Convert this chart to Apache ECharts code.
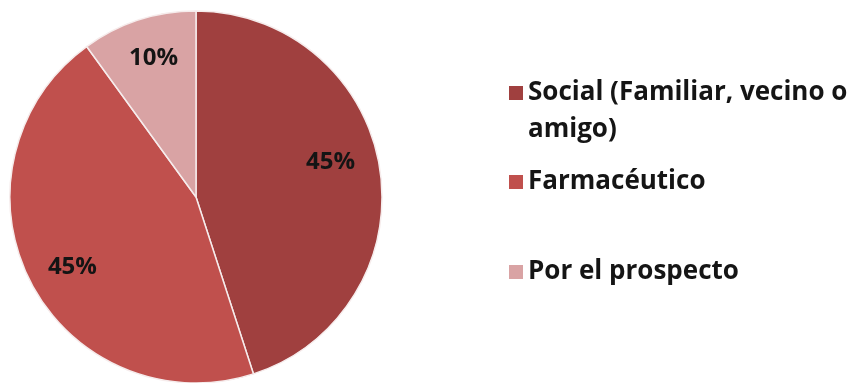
<!DOCTYPE html>
<html><head><meta charset="utf-8">
<script src="https://cdn.jsdelivr.net/npm/echarts@6/dist/echarts.min.js"></script>
<style>html,body{margin:0;padding:0;background:#fff}#c{width:854px;height:383px}</style>
</head><body><div id="c"></div>
<script>
const categories = ['Social (Familiar, vecino o amigo)', 'Farmacéutico', 'Por el prospecto'];
const legendLines = [['Social (Familiar, vecino o', 'amigo)'], ['Farmacéutico'], ['Por el prospecto']];
const values = [45, 45, 10];
const labels = ['45%', '45%', '10%'];
const colors = ['#A0403F', '#C0504D', '#D9A3A4'];

const CX = 196, CY = 197, R = 186;
const labelR = [139, 142, 145];          // label distance from centre (px)
const labelTurn = [-5.5, -2.5, 1];        // label angle tweak (degrees, clockwise)
const LH = 37;

const chart = echarts.init(document.getElementById('c'), null, {renderer: 'canvas'});
const legendText = {fontFamily: 'Open Sans', fontWeight: 'bold', fontSize: 26, color: '#151515', lineHeight: LH};
function mkLegend(i, centerY) {
  const lines = legendLines[i];
  const text = lines.length > 1 ? '\n' + lines.join('\n') : lines[0];
  const nLines = lines.length > 1 ? lines.length + 1 : 1;
  return {
    data: [categories[i]], left: 509, top: centerY - nLines * LH / 2, orient: 'vertical',
    itemWidth: 14, itemHeight: 14, itemGap: 0, icon: 'rect', selectedMode: false,
    itemStyle: {borderWidth: 0},
    formatter: () => text,
    textStyle: legendText, padding: 0
  };
}
chart.setOption({
  animation: false,
  color: colors,
  legend: [mkLegend(0, 93), mkLegend(1, 182), mkLegend(2, 272)],
  series: [{
    type: 'pie',
    center: [CX, CY],
    radius: [0, R],
    startAngle: 90,
    clockwise: true,
    data: categories.map((c, i) => ({name: c, value: values[i]})),
    itemStyle: {borderColor: '#f6ecec', borderWidth: 1.5},
    label: {
      show: true, position: 'inside',
      formatter: p => labels[p.dataIndex],
      fontFamily: 'Open Sans', fontWeight: 'bold', fontSize: 24, color: '#141414'
    },
    labelLayout: function (p) {
      const r = p.labelRect;
      const lx = r.x + r.width / 2 - CX, ly = r.y + r.height / 2 - CY;
      const a = Math.atan2(ly, lx) + labelTurn[p.dataIndex] * Math.PI / 180;
      const d = labelR[p.dataIndex];
      return {x: CX + d * Math.cos(a), y: CY + d * Math.sin(a), align: 'center', verticalAlign: 'middle'};
    },
    emphasis: {disabled: true}
  }]
});
</script></body></html>
